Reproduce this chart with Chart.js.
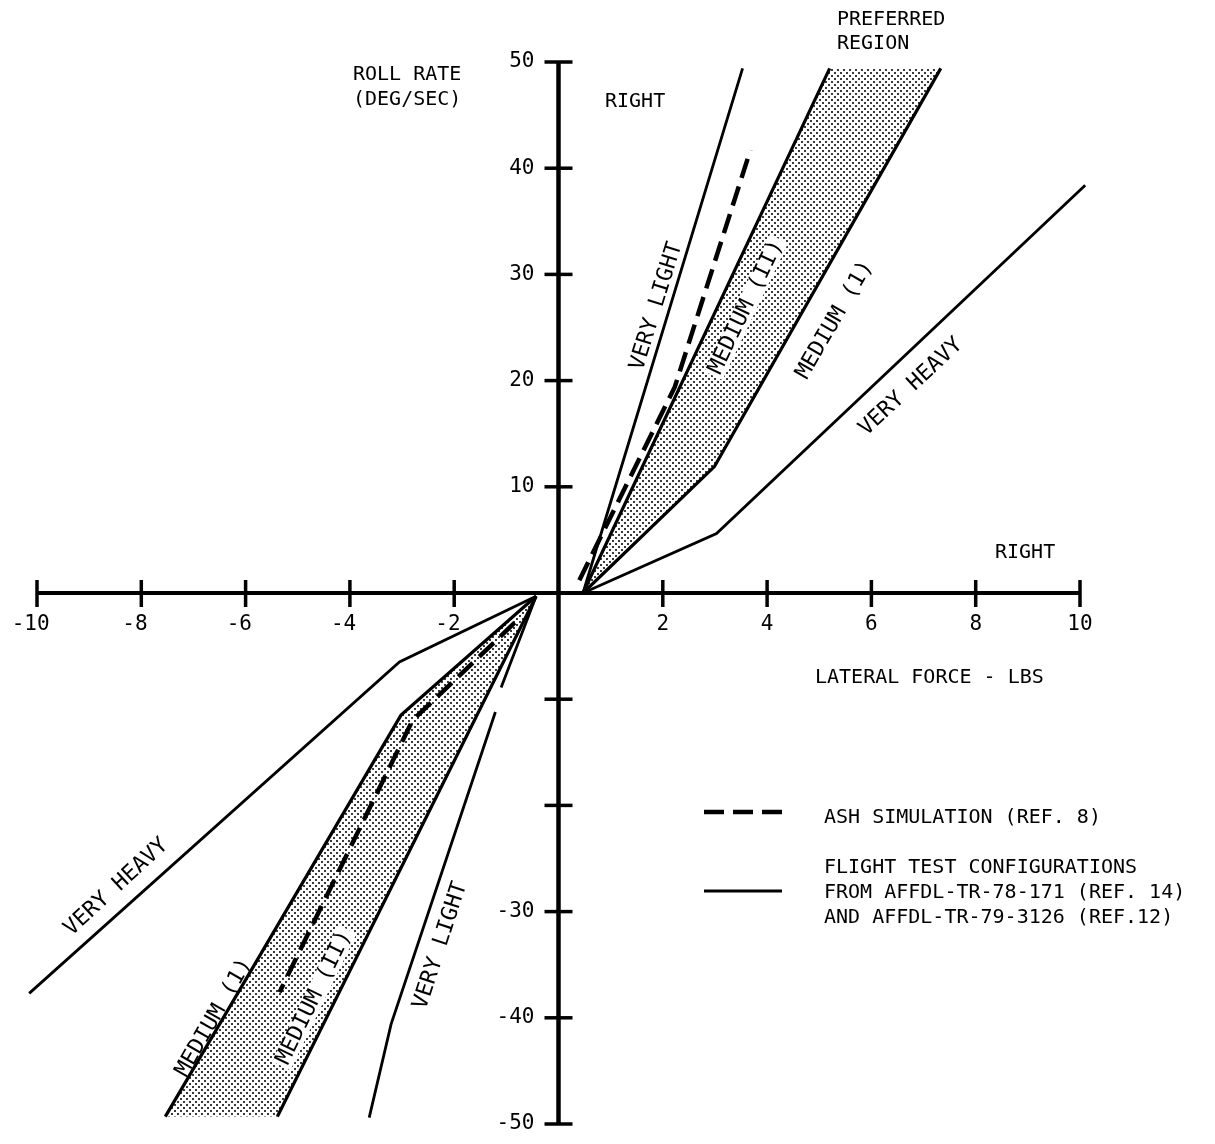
<!DOCTYPE html>
<html>
<head>
<meta charset="utf-8">
<script src="https://cdn.jsdelivr.net/npm/chart.js@4.4.1/dist/chart.umd.min.js"></script>
<style>
  html, body { margin: 0; padding: 0; background: #ffffff; }
  canvas { display: block; }
</style>
</head>
<body>
<canvas id="chart" width="1215" height="1144"></canvas>
<script>
// Axis ticks and their printed labels
const xAxisTicks  = [-10, -8, -6, -4, -2, 0, 2, 4, 6, 8, 10];
const xTickLabels = ['-10', '-8', '-6', '-4', '-2', '', '2', '4', '6', '8', '10'];
const yAxisTicks  = [-50, -40, -30, -20, -10, 0, 10, 20, 30, 40, 50];
const yTickLabels = ['-50', '-40', '-30', '', '', '', '10', '20', '30', '40', '50'];

// Right-hand branches: [lateral force (lbs), roll rate (deg/sec)]
const veryLightRight = [[0.47, 0], [3.53, 49.4]];
const mediumIIRight  = [[0.47, 0], [5.20, 49.4]];
const mediumIRight   = [[0.47, 0], [2.99, 11.9], [7.33, 49.4]];
const veryHeavyRight = [[0.47, 0], [3.03, 5.6], [10.10, 38.4]];
const ashRight       = [[0.40, 1.2], [2.23, 19.4], [3.68, 41.7]];

// Left-hand branches (null marks a break in the drawn line)
const veryLightLeft  = [[-0.43, -0.3], [-1.10, -8.9], null, [-1.21, -11.2], [-3.21, -40.6], [-3.63, -49.4]];
const mediumIILeft   = [[-0.43, -0.3], [-5.39, -49.3]];
const mediumILeft    = [[-0.43, -0.3], [-3.02, -11.5], [-7.54, -49.3]];
const veryHeavyLeft  = [[-0.43, -0.3], [-3.05, -6.5], [-10.15, -37.7]];
const ashLeft        = [[-0.84, -2.8], [-2.80, -12.0], [-5.35, -37.6]];

const toPoints = arr => arr.map(p => p ? { x: p[0], y: p[1] } : { x: null, y: null });
const joinBranches = (right, left) => toPoints(right.concat([null], left));

// Preferred region: the band bounded by the two "medium" lines
const upperBand = mediumIIRight.concat(mediumIRight.slice().reverse());
const lowerBand = mediumILeft.concat(mediumIILeft.slice().reverse());

const canvas = document.getElementById('chart');
const ctx2d = canvas.getContext('2d');

// Stippled fill for the preferred region (staggered dot lattice)
function stipplePattern() {
  const tile = document.createElement('canvas');
  tile.width = 6; tile.height = 6;
  const g = tile.getContext('2d');
  g.fillStyle = '#ffffff'; g.fillRect(0, 0, 6, 6);
  g.fillStyle = '#3a3a3a';
  g.fillRect(0, 0, 2, 2);
  g.fillRect(3, 3, 2, 2);
  return ctx2d.createPattern(tile, 'repeat');
}
const stipple = stipplePattern();

const FONT = '"DejaVu Sans Mono", "Liberation Mono", monospace';

// Labels written along the lines (data-space anchors); "clear" ones sit on a white patch inside the band
const lineNotes = [
  { text: 'VERY LIGHT',  x: 1.88,  y: 27.0,  angle: -72.8 },
  { text: 'MEDIUM (II)', x: 3.60,  y: 26.9,  angle: -64.4, clear: true },
  { text: 'MEDIUM (1)',  x: 5.30,  y: 25.7,  angle: -59.9 },
  { text: 'VERY HEAVY',  x: 6.76,  y: 19.4,  angle: -42.9 },
  { text: 'VERY HEAVY',  x: -8.48, y: -27.7, angle: -42.6 },
  { text: 'MEDIUM (1)',  x: -6.60, y: -40.0, angle: -60.2 },
  { text: 'MEDIUM (II)', x: -4.68, y: -38.1, angle: -64.1, clear: true },
  { text: 'VERY LIGHT',  x: -2.26, y: -33.2, angle: -72.0 }
];

function strokeLine(ctx, x1, y1, x2, y2) {
  ctx.beginPath(); ctx.moveTo(x1, y1); ctx.lineTo(x2, y2); ctx.stroke();
}

const crossedAxes = {
  id: 'crossedAxes',
  beforeDatasetsDraw(chart) {
    const { ctx, scales: { x, y } } = chart;
    const x0 = x.getPixelForValue(0);
    const y0 = y.getPixelForValue(0);
    ctx.save();
    ctx.strokeStyle = '#000';
    ctx.lineCap = 'butt';
    ctx.lineWidth = 4;
    strokeLine(ctx, x.getPixelForValue(xAxisTicks[0]), y0, x.getPixelForValue(xAxisTicks[xAxisTicks.length - 1]), y0);
    ctx.lineWidth = 4.5;
    strokeLine(ctx, x0, y.getPixelForValue(yAxisTicks[yAxisTicks.length - 1]), x0, y.getPixelForValue(yAxisTicks[0]));
    ctx.lineWidth = 3.5;
    x.ticks.forEach(t => {
      if (t.value === 0) return;
      const px = x.getPixelForValue(t.value);
      strokeLine(ctx, px, y0 - 13, px, y0 + 14);
    });
    y.ticks.forEach(t => {
      if (t.value === 0) return;
      const py = y.getPixelForValue(t.value);
      strokeLine(ctx, x0 - 14, py, x0 + 14, py);
    });
    ctx.restore();
  },
  afterDatasetsDraw(chart) {
    const { ctx, scales: { x, y } } = chart;
    const x0 = x.getPixelForValue(0);
    const y0 = y.getPixelForValue(0);
    ctx.save();
    ctx.fillStyle = '#000';

    // tick labels
    ctx.font = '21px ' + FONT;
    ctx.textBaseline = 'middle';
    ctx.textAlign = 'center';
    x.ticks.forEach(t => {
      const label = xTickLabels[xAxisTicks.indexOf(t.value)];
      if (!label) return;
      const shift = label.startsWith('-') ? ctx.measureText('-').width / 2 : 0;
      ctx.fillText(label, x.getPixelForValue(t.value) - shift, y0 + 32);
    });
    ctx.textAlign = 'right';
    y.ticks.forEach(t => {
      const label = yTickLabels[yAxisTicks.indexOf(t.value)];
      if (!label) return;
      ctx.fillText(label, x0 - 24, y.getPixelForValue(t.value));
    });

    // axis titles and side notes
    ctx.font = '20px ' + FONT;
    ctx.textAlign = 'left';
    ctx.fillText('ROLL RATE', 353, 75);
    ctx.fillText('(DEG/SEC)', 353, 100);
    ctx.fillText('RIGHT', 605, 102);
    ctx.fillText('RIGHT', 995, 553);
    ctx.fillText('PREFERRED', 837, 20);
    ctx.fillText('REGION', 837, 44);
    ctx.fillText('LATERAL FORCE - LBS', 815, 678);

    // labels along the lines
    ctx.font = '22px ' + FONT;
    ctx.textAlign = 'center';
    lineNotes.forEach(n => {
      ctx.save();
      ctx.translate(x.getPixelForValue(n.x), y.getPixelForValue(n.y));
      ctx.rotate(n.angle * Math.PI / 180);
      if (n.clear) {
        const w = ctx.measureText(n.text).width;
        ctx.fillStyle = '#ffffff';
        ctx.fillRect(-w / 2 - 3, -10, w + 6, 20);
        ctx.fillStyle = '#000';
      }
      ctx.fillText(n.text, 0, 0);
      ctx.restore();
    });

    // legend
    const ash = chart.data.datasets.find(d => d.label === 'ASH SIMULATION');
    const flight = chart.data.datasets.find(d => d.label === 'VERY LIGHT');
    ctx.strokeStyle = ash.borderColor;
    ctx.lineWidth = ash.borderWidth;
    ctx.setLineDash(ash.borderDash);
    strokeLine(ctx, 704, 812, 782, 812);
    ctx.setLineDash([]);
    ctx.strokeStyle = flight.borderColor;
    ctx.lineWidth = 3;
    strokeLine(ctx, 704, 891, 782, 891);
    ctx.font = '20px ' + FONT;
    ctx.textAlign = 'left';
    ctx.fillText('ASH SIMULATION (REF. 8)', 824, 818);
    ctx.fillText('FLIGHT TEST CONFIGURATIONS', 824, 868);
    ctx.fillText('FROM AFFDL-TR-78-171 (REF. 14)', 824, 893);
    ctx.fillText('AND AFFDL-TR-79-3126 (REF.12)', 824, 918);
    ctx.restore();
  }
};

const lineStyle = (label, data, width) => ({
  label, data, showLine: true, fill: false, clip: false,
  borderColor: '#000000', borderWidth: width, pointRadius: 0, order: 1
});

new Chart(canvas, {
  type: 'scatter',
  data: {
    datasets: [
      lineStyle('VERY LIGHT', joinBranches(veryLightRight, veryLightLeft), 2.8),
      lineStyle('MEDIUM (II)', joinBranches(mediumIIRight, mediumIILeft), 3.2),
      lineStyle('MEDIUM (1)', joinBranches(mediumIRight, mediumILeft), 3.2),
      lineStyle('VERY HEAVY', joinBranches(veryHeavyRight, veryHeavyLeft), 2.8),
      Object.assign(lineStyle('ASH SIMULATION', joinBranches(ashRight, ashLeft), 4.5), { borderDash: [20, 9] }),
      {
        label: 'PREFERRED REGION (RIGHT)', data: toPoints(upperBand), showLine: true, fill: 'shape',
        backgroundColor: stipple, borderColor: 'rgba(0,0,0,0)', borderWidth: 1, pointRadius: 0, order: 10, clip: false
      },
      {
        label: 'PREFERRED REGION (LEFT)', data: toPoints(lowerBand), showLine: true, fill: 'shape',
        backgroundColor: stipple, borderColor: 'rgba(0,0,0,0)', borderWidth: 1, pointRadius: 0, order: 10, clip: false
      }
    ]
  },
  options: {
    responsive: false,
    animation: false,
    devicePixelRatio: 1,
    events: [],
    layout: { padding: { left: 37, right: 135, top: 62, bottom: 20 } },
    elements: { point: { radius: 0, hoverRadius: 0 }, line: { tension: 0 } },
    plugins: { legend: { display: false }, tooltip: { enabled: false } },
    scales: {
      x: {
        type: 'linear', min: -10, max: 10, position: { y: 0 },
        grid: { display: false }, border: { display: false }, ticks: { display: false },
        afterBuildTicks: s => { s.ticks = xAxisTicks.map(v => ({ value: v })); }
      },
      y: {
        type: 'linear', min: -50, max: 50, position: { x: 0 },
        grid: { display: false }, border: { display: false }, ticks: { display: false },
        afterBuildTicks: s => { s.ticks = yAxisTicks.map(v => ({ value: v })); }
      }
    }
  },
  plugins: [crossedAxes]
});
</script>
</body>
</html>
